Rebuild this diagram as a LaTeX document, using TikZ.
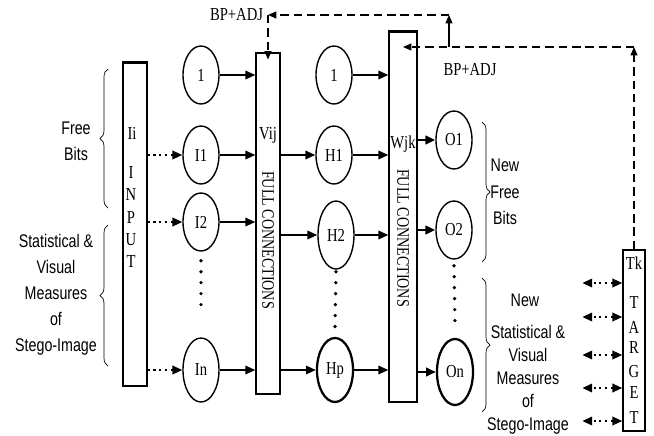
\documentclass[tikz,border=0pt]{standalone}
\usepackage{fontspec}
\setmainfont[FakeStretch=0.8]{Liberation Serif}
\setsansfont[FakeStretch=0.78]{Liberation Sans}
\usepackage{tikz}
\usetikzlibrary{arrows.meta, positioning, shapes.geometric, decorations.pathreplacing}

\begin{document}
\begin{tikzpicture}[x=0.025cm, y=-0.025cm,
  every node/.style={font=\fontsize{13}{14}\selectfont},
  neuron/.style={draw, ellipse, line width=1pt, minimum width=0.9cm, minimum height=1.45cm, inner sep=0pt},
  bigneuron/.style={neuron, line width=1.6pt, minimum height=1.6cm},
  layerbox/.style={draw, rectangle, line width=1pt, inner sep=0pt},
  conn/.style={-{Triangle[length=7pt, width=6pt]}, line width=1.3pt},
  dotconn/.style={-{Triangle[length=7pt, width=6pt]}, line width=1.5pt, dash pattern=on 1.5pt off 2.6pt},
  twoway/.style={{Triangle[length=7pt, width=6pt]}-{Triangle[length=7pt, width=6pt]}, line width=1.5pt, dash pattern=on 1.5pt off 2.6pt},
  feedback/.style={-{Triangle[length=6pt, width=5pt]}, line width=0.8pt, dash pattern=on 6pt off 3.5pt},
  vdots/.style={line width=2.6pt, line cap=round, dash pattern=on 0pt off 7.8pt},
  sidebrace/.style={decorate, decoration={brace, amplitude=0.2cm}, line width=0.5pt},
  sidetext/.style={font=\sffamily\fontsize{13}{18.4}\selectfont, align=center},
  fulltext/.style={rotate=-90, font=\fontsize{12.5}{13}\selectfont}]

\useasboundingbox (0,0) rectangle (654,436);

% Layer boxes
\node[layerbox, minimum width=0.6cm, minimum height=8.075cm] (input) at (135,224.5) {};
\node[layerbox, minimum width=0.6cm, minimum height=8.525cm] (vij) at (268,223.5) {};
\node[layerbox, minimum width=0.7cm, minimum height=9.25cm] (wjk) at (403,217) {};
\node[layerbox, minimum width=0.55cm, minimum height=4.525cm] (target) at (634,340.5) {};
\draw[line width=2pt] (input.north west) -- (input.north east);
\draw[line width=2pt] (wjk.north west) -- (wjk.north east);

% Box labels
\node (ii) at (132,133) {Ii};
\foreach \ch/\yy [count=\k] in {I/173, N/195, P/218, U/240, T/262}
  \node (inlet\k) at (131,\yy) {\ch};
\node (vijlab) at (268,135) {Vij};
\node[fulltext] (vijfull) at (268,240) {FULL CONNECTIONS};
\node (wjklab) at (403,144) {Wjk};
\node[fulltext] (wjkfull) at (403,238) {FULL CONNECTIONS};
\node (tk) at (634,263) {Tk};
\foreach \ch/\yy [count=\k] in {T/303, A/327, R/348, G/372, E/393, T/418}
  \node (tglet\k) at (634,\yy) {\ch};

% Neurons
\node[neuron] (bias1) at (201,75) {1};
\node[neuron] (in1) at (201,155) {I1};
\node[neuron] (in2) at (201,222) {I2};
\node[neuron, minimum height=1.6cm] (inN) at (201,370) {In};

\node[neuron] (bias2) at (334,75) {1};
\node[neuron] (hid1) at (334,155) {H1};
\node[neuron, minimum height=1.7cm] (hid2) at (336,235) {H2};
\node[bigneuron] (hidP) at (335,370) {Hp};

\node[neuron] (out1) at (454,140) {O1};
\node[neuron] (out2) at (454,230) {O2};
\node[bigneuron, minimum height=1.65cm] (outN) at (455,372) {On};

% Connections
\foreach \n in {in1, in2, inN}
  \draw[dotconn] (input.east |- \n.west) -- (\n.west);
\foreach \n in {bias1, in1, in2, inN}
  \draw[conn] (\n.east) -- (\n.east -| vij.west);
\foreach \n in {hid1, hid2, hidP}
  \draw[conn] (vij.east |- \n.west) -- (\n.west);
\foreach \n in {bias2, hid1, hid2, hidP}
  \draw[conn] (\n.east) -- (\n.east -| wjk.west);
\foreach \n in {out1, out2, outN}
  \draw[conn, line width=2pt] (wjk.east |- \n.west) -- (\n.west);

% Vertical dots
\draw[vdots] ([yshift=-0.225cm]in2.south) -- ([yshift=0.55cm]inN.north);
\draw[vdots] ([yshift=-0.05cm]hid2.south) -- ([yshift=0.25cm]hidP.north);
\draw[vdots] ([yshift=-0.15cm]out2.south) -- ([yshift=0.35cm]outN.north);

% Target comparison
\foreach \yy in {283, 317, 355, 388, 421}
  \draw[twoway] (target.west |- 0,\yy) -- ++(-40,0);

% Feedback paths
\coordinate (fbA) at (target.north |- 0,47);
\coordinate (fbB) at (wjk.north |- 0,47);
\coordinate (fbC) at (449,47);
\coordinate (fbD) at (449,15);
\coordinate (fbE) at (vij.north |- 0,15);
\draw[feedback] (target.north) -- (fbA);
\draw[feedback] (fbA) -- (fbB);
\draw[-{Triangle[length=6pt, width=5pt]}, line width=0.8pt] (fbC) -- (fbD);
\draw[feedback] (fbD) -- (fbE);
\draw[feedback] (fbE) -- ([yshift=-0.18cm]vij.north);
\node[left] (bpadj1) at (fbE) {BP+ADJ};
\node (bpadj2) at (470,70) {BP+ADJ};

% Braces and side texts
\draw[sidebrace] (108,208) -- (108,69);
\draw[sidebrace] (108,366) -- (108,225);
\draw[sidebrace] (482,122) -- (482,262);
\draw[sidebrace] (482,278) -- (482,412);
\node[sidetext] (freebits) at (76,141) {Free\\Bits};
\node[sidetext] (statin) at (56,295) {Statistical \&\\Visual\\Measures\\of\\Stego-Image};
\node[sidetext, font=\sffamily\fontsize{13}{18.8}\selectfont] (newfree) at (505,192) {New\\Free\\Bits};
\node[sidetext] (newlab) at (525,300) {New};
\node[sidetext, font=\sffamily\fontsize{13}{16.3}\selectfont] (statout) at (528,380) {Statistical \&\\Visual\\Measures\\of\\Stego-Image};

\end{tikzpicture}
\end{document}
